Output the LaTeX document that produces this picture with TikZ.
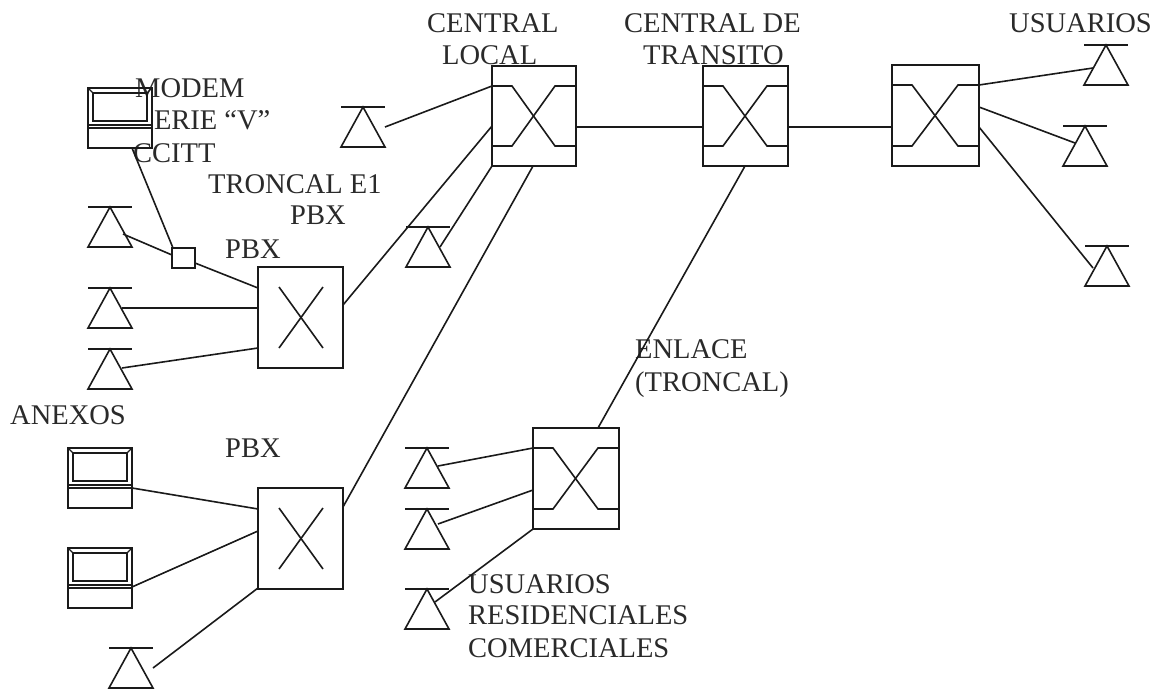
\documentclass[tikz,border=0pt]{standalone}
\usepackage{fontspec}
\setmainfont{Liberation Serif}
\definecolor{ink}{HTML}{1A1A1A}
\definecolor{txt}{HTML}{2A2A2A}
\tikzset{
  ln/.style={draw=ink,line width=1.6pt,line join=miter},
  lbl/.style={anchor=base west,inner sep=0pt,text=txt,font=\fontsize{28.5}{32}\selectfont},
  boxnode/.style={ln,rectangle,inner sep=0pt,outer sep=0pt,minimum width=#1},
  tribox/.style={rectangle,inner sep=0pt,outer sep=0pt,minimum width=44pt,minimum height=40pt,anchor=north west},
}
% name, x, y (top left), w, h
\newcommand{\At}[3]{([shift={(#2,#3)}]#1.north west)}
\newcommand{\SwX}[5]{%
  \node[boxnode=#4pt,minimum height=#5pt,anchor=north west] (#1) at (#2,#3) {};
  \draw[ln] \At{#1}{0}{20} -- \At{#1}{20}{20} -- \At{#1}{#4-21}{#5-20} -- \At{#1}{#4}{#5-20};
  \draw[ln] \At{#1}{0}{#5-20} -- \At{#1}{20}{#5-20} -- \At{#1}{#4-21}{20} -- \At{#1}{#4}{20};
}
\newcommand{\PbxX}[3]{%
  \node[boxnode=85pt,minimum height=101pt,anchor=north west] (#1) at (#2,#3) {};
  \draw[ln] \At{#1}{21}{20} -- \At{#1}{65}{81};
  \draw[ln] \At{#1}{21}{81} -- \At{#1}{65}{20};
}
\newcommand{\TriN}[3]{%
  \node[tribox] (#1) at (#2,#3) {};
  \draw[ln] (#1.north west) -- (#1.north east);
  \draw[ln] (#1.north) -- (#1.south east) -- (#1.south west) -- cycle;
}
\newcommand{\PC}[3]{%
  \node[boxnode=64pt,minimum height=60pt,anchor=north west] (#1) at (#2,#3) {};
  \draw[ln,line width=1.2pt] \At{#1}{5}{5} rectangle \At{#1}{59}{33};
  \draw[ln,line width=1.2pt] \At{#1}{0}{0} -- \At{#1}{5}{5} \At{#1}{64}{0} -- \At{#1}{59}{5};
  \draw[ln] \At{#1}{0}{37} -- \At{#1}{64}{37};
  \draw[ln] \At{#1}{0}{40} -- \At{#1}{64}{40};
}
\begin{document}
\begin{tikzpicture}[x=1pt,y=-1pt]
\useasboundingbox (0,0) rectangle (1163,691);
\fill[white] (0,0) rectangle (1163,691);
% labels
\node[lbl] (tMod) at (135,97) {MODEM};
\node[lbl] (tSer) at (138,129) {SERIE ``V''};
\node[lbl] (tCci) at (133,162) {CCITT};
\fill[white] (88,106) rectangle (152,131);
\node[lbl] (tTro) at (208,193) {TRONCAL E1};
\node[lbl] (tPb1) at (290,224) {PBX};
\node[lbl] (tPb2) at (225,258) {PBX};
\node[lbl] (tAne) at (10,424) {ANEXOS};
\node[lbl] (tPb3) at (225,457) {PBX};
\node[lbl] (tCen) at (427,32) {CENTRAL};
\node[lbl] (tLoc) at (442,64) {LOCAL};
\node[lbl] (tCde) at (624,32) {CENTRAL DE};
\node[lbl] (tTra) at (643,64) {TRANSITO};
\node[lbl] (tUsu) at (1009,32) {USUARIOS};
\node[lbl] (tEnl) at (635,358) {ENLACE};
\node[lbl] (tTrc) at (635,391) {(TRONCAL)};
\node[lbl] (tUs2) at (468,593) {USUARIOS};
\node[lbl] (tRes) at (468,624) {RESIDENCIALES};
\node[lbl] (tCom) at (468,657) {COMERCIALES};
% switches
\SwX{local}{492}{66}{84}{100}
\SwX{transit}{703}{66}{85}{100}
\SwX{right}{892}{65}{87}{101}
\SwX{res}{533}{428}{86}{101}
\PbxX{pbxa}{258}{267}
\PbxX{pbxb}{258}{488}
% terminals
\TriN{tl}{341}{107}
\TriN{tm}{406}{227}
\TriN{la}{88}{207}
\TriN{lb}{88}{288}
\TriN{lc}{88}{349}
\TriN{bt}{109}{648}
\TriN{ra}{405}{448}
\TriN{rb}{405}{509}
\TriN{rc}{405}{589}
\TriN{ua}{1084}{45}
\TriN{ub}{1063}{126}
\TriN{uc}{1085}{246}
\PC{pca}{88}{88}
\PC{pcb}{68}{448}
\PC{pcc}{68}{548}
\node[boxnode=23pt,minimum height=20pt,anchor=north west] (mux) at (172,248) {};
% connectors
\draw[ln] \At{pca}{44}{60} -- \At{mux}{1}{0};
\draw[ln] \At{la}{35}{27} -- \At{mux}{0}{7};
\draw[ln] \At{mux}{23}{15} -- \At{pbxa}{0}{21};
\draw[ln] \At{lb}{34}{20} -- \At{pbxa}{0}{41};
\draw[ln] \At{lc}{34}{19} -- \At{pbxa}{0}{81};
\draw[ln] \At{pbxa}{85}{38} -- \At{local}{0}{60};
\draw[ln] \At{tm}{34}{20} -- \At{local}{0}{100};
\draw[ln] \At{tl}{44}{20} -- \At{local}{0}{20};
\draw[ln] \At{pbxb}{85}{19} -- \At{local}{41}{100};
\draw[ln] \At{local}{84}{61} -- \At{transit}{0}{61};
\draw[ln] \At{transit}{85}{61} -- \At{right}{0}{62};
\draw[ln] \At{transit}{42}{100} -- \At{res}{65}{0};
\draw[ln] \At{ra}{33}{18} -- \At{res}{0}{20};
\draw[ln] \At{rb}{33}{15} -- \At{res}{0}{62};
\draw[ln] \At{rc}{30}{13} -- \At{res}{0}{101};
\draw[ln] \At{pcb}{64}{40} -- \At{pbxb}{0}{21};
\draw[ln] \At{pcc}{64}{39} -- \At{pbxb}{0}{43};
\draw[ln] \At{bt}{44}{20} -- \At{pbxb}{0}{100};
\draw[ln] \At{right}{87}{20} -- \At{ua}{9}{23};
\draw[ln] \At{right}{87}{42} -- \At{ub}{12}{17};
\draw[ln] \At{right}{87}{62} -- \At{uc}{8}{22};
\end{tikzpicture}
\end{document}
